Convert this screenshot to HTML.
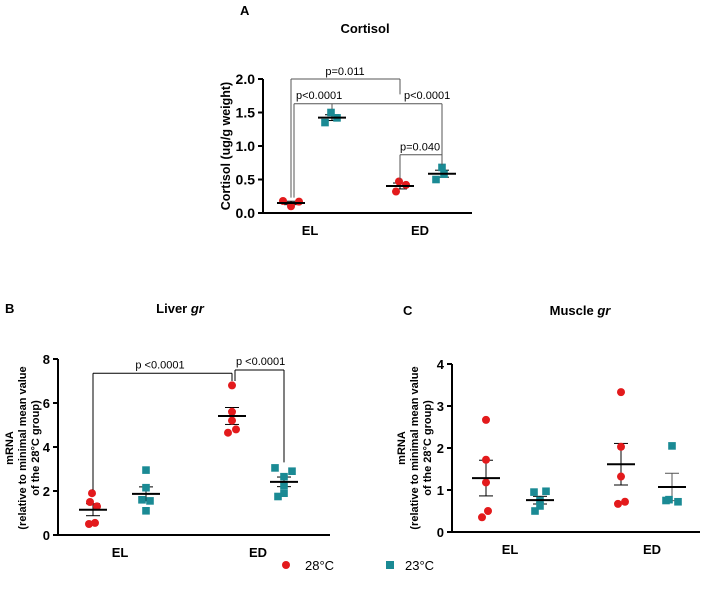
<!DOCTYPE html>
<html><head><meta charset="utf-8"><style>
body{margin:0;background:#fff;}
svg{font-family:"Liberation Sans",Arial,sans-serif;display:block}
</style></head><body>
<svg id="fig" width="708" height="598" viewBox="0 0 708 598">
<text x="240" y="15" font-size="13" font-weight="bold">A</text>
<text x="365" y="33" font-size="13" font-weight="bold" text-anchor="middle">Cortisol</text>
<text transform="translate(230,146) rotate(-90)" font-size="12.5" font-weight="bold" text-anchor="middle">Cortisol (ug/g weight)</text>
<text x="5" y="313" font-size="13" font-weight="bold">B</text>
<text x="180" y="313" font-size="13" font-weight="bold" text-anchor="middle">Liver <tspan font-style="italic">gr</tspan></text>
<text transform="translate(26,448) rotate(-90)" font-size="11" font-weight="bold" text-anchor="middle"><tspan x="0" dy="-13">mRNA</tspan><tspan x="0" dy="13">(relative to minimal mean value</tspan><tspan x="0" dy="13">of the 28°C group)</tspan></text>
<text x="403" y="315" font-size="13" font-weight="bold">C</text>
<text x="580" y="315" font-size="13" font-weight="bold" text-anchor="middle">Muscle <tspan font-style="italic">gr</tspan></text>
<text transform="translate(418,448) rotate(-90)" font-size="11" font-weight="bold" text-anchor="middle"><tspan x="0" dy="-13">mRNA</tspan><tspan x="0" dy="13">(relative to minimal mean value</tspan><tspan x="0" dy="13">of the 28°C group)</tspan></text>
<g>
<circle cx="286" cy="565" r="4" fill="#e31a1c"/>
<text x="305" y="570" font-size="13">28°C</text>
<rect x="386" y="561" width="8" height="8" fill="#1a8a94"/>
<text x="405" y="570" font-size="13">23°C</text>
</g>
</svg>
<script>
const RED="#e31a1c", TEAL="#1a8a94";
// Panel A data
const cortEL28=[0.18,0.10,0.17];
const cortEL23=[1.50,1.35,1.42];
const cortED28=[0.47,0.32,0.42];
const cortED23=[0.68,0.50,0.58];
const cortTicks=["0.0","0.5","1.0","1.5","2.0"];
// Panel B data
const livEL28=[1.9,1.5,1.3,0.5,0.55];
const livEL23=[2.95,2.15,1.6,1.55,1.1];
const livED28=[6.8,5.6,5.2,4.8,4.65];
const livED23=[3.05,2.9,2.65,2.25,1.9,1.75];
const livTicks=["0","2","4","6","8"];
// Panel C data
const musEL28=[2.67,1.72,1.18,0.5,0.35];
const musEL23=[0.97,0.95,0.75,0.62,0.5];
const musED28=[3.33,2.03,1.32,0.72,0.67];
const musED23=[2.05,0.77,0.72,0.75];
const musTicks=["0","1","2","3","4"];
const categories=["EL","ED"];

const svg=document.getElementById('fig');
const NS="http://www.w3.org/2000/svg";
function mk(tag,attrs,name,parent){const e=document.createElementNS(NS,tag);for(const k in attrs)e.setAttribute(k,attrs[k]);


(parent||svg).appendChild(e);return e;}
function line(x1,y1,x2,y2,name,g,col,w){return mk('line',{x1,y1,x2,y2,stroke:col||'#000','stroke-width':w||1},name,g);}
function txt(x,y,s,name,g,o){const t=mk('text',Object.assign({x,y,'font-size':11},o||{}),name,g);t.textContent=s;return t;}

function panel(cfg){
  const g=mk('g',{},cfg.name+'-plot');
  const Y=v=>cfg.y0-(v/cfg.ymax)*(cfg.y0-cfg.ytop);
  line(cfg.ax,cfg.ytop,cfg.ax,cfg.y0+1,cfg.name+'-y-axis',g,'#000',2);
  line(cfg.ax-1,cfg.y0,cfg.xend,cfg.y0,cfg.name+'-x-axis',g,'#000',2);
  cfg.ticks.forEach((t,i)=>{const v=cfg.ymax*i/(cfg.ticks.length-1);
    line(cfg.ax-5,Y(v),cfg.ax,Y(v),cfg.name+'-y-tick',g,'#000',2);
    txt(cfg.ax-8,Y(v)+5,t,cfg.name+'-y-tick-label',g,{'text-anchor':'end','font-size':cfg.tfs||13,'font-weight':'bold'});
  });
  categories.forEach((c,i)=>txt(cfg.catX[i],cfg.y0+22,c,cfg.name+'-x-label-'+c.toLowerCase(),g,{'text-anchor':'middle','font-size':13,'font-weight':'bold'}));
  cfg.series.forEach(s=>{
    const n=s.d.length,m=s.d.reduce((a,b)=>a+b,0)/n;
    const sd=Math.sqrt(s.d.reduce((a,b)=>a+(b-m)*(b-m),0)/(n-1)),se=sd/Math.sqrt(n);
    line(s.x,Y(m+se),s.x,Y(m-se),cfg.name+'-errorbar',g,s.ec||'#000',1);
    line(s.x-7,Y(m+se),s.x+7,Y(m+se),cfg.name+'-errorcap',g,s.ec||'#000',1);
    line(s.x-7,Y(m-se),s.x+7,Y(m-se),cfg.name+'-errorcap',g,s.ec||'#000',1);
    s.d.forEach((v,j)=>{const dx=s.jit[j]||0;
      if(s.red) mk('circle',{cx:s.x+dx,cy:Y(v),r:4,fill:RED},cfg.name+'-point-28c',g);
      else mk('rect',{x:s.x+dx-3.8,y:Y(v)-3.8,width:7.6,height:7.6,fill:TEAL},cfg.name+'-point-23c',g);
    });
    line(s.x-14,Y(m),s.x+14,Y(m),cfg.name+'-mean-line',g,'#000',2);
  });
  return {g,Y};
}
// Panel A
const A=panel({name:'cortisol',ax:263,y0:213,ytop:79,ymax:2,xend:472,ticks:cortTicks,catX:[310,420],tfs:14,
 series:[{x:291,d:cortEL28,red:1,jit:[-8,0,8]},{x:332,d:cortEL23,jit:[-1,-7,5]},{x:400,d:cortED28,red:1,jit:[-1,-4,6]},{x:442,d:cortED23,jit:[0,-6,2]}]});
{const g=A.g,Y=A.Y,c='#555';
 line(291,Y(0.23),291,Y(2.0),'bracket-p011',g,c);line(291,Y(2.0),400,Y(2.0),'bracket-p011',g,c);line(400,Y(2.0),400,Y(1.77),'bracket-p011',g,c);
 txt(345,Y(2.0)-4,'p=0.011','p-label-011',g,{'text-anchor':'middle'});
 line(294,Y(0.23),294,Y(1.63),'bracket-el',g,c);line(294,Y(1.63),442,Y(1.63),'bracket-el',g,c);line(332,Y(1.63),332,Y(1.55),'bracket-el',g,c);line(442,Y(1.63),442,Y(0.72),'bracket-el',g,c);
 txt(296,Y(1.63)-5,'p<0.0001','p-label-el',g,{});
 txt(404,Y(1.63)-5,'p<0.0001','p-label-ed',g,{});
 line(400,Y(0.5),400,Y(0.87),'bracket-p040',g,c);line(400,Y(0.87),442,Y(0.87),'bracket-p040',g,c);line(442,Y(0.87),442,Y(0.72),'bracket-p040',g,c);
 txt(400,Y(0.87)-4,'p=0.040','p-label-040',g,{});
}
// Panel B
const B=panel({name:'liver',ax:58,y0:535,ytop:359,ymax:8,xend:330,ticks:livTicks,catX:[120,258],
 series:[{x:93,d:livEL28,red:1,jit:[-1,-3,4,-4,2]},{x:146,d:livEL23,jit:[0,0,-4,4,0]},{x:232,d:livED28,red:1,jit:[0,0,0,4,-4]},{x:284,d:livED23,jit:[-9,8,0,0,0,-6]}]});
{const g=B.g,Y=B.Y;
 line(93,Y(2.05),93,Y(7.35),'bracket-liver-el-ed',g);line(93,Y(7.35),232,Y(7.35),'bracket-liver-el-ed',g);line(232,Y(7.35),232,Y(7.0),'bracket-liver-el-ed',g);
 txt(160,Y(7.35)-5,'p <0.0001','p-label-liver-1',g,{'text-anchor':'middle'});
 line(235,Y(7.0),235,Y(7.5),'bracket-liver-ed',g);line(235,Y(7.5),284,Y(7.5),'bracket-liver-ed',g);line(284,Y(7.5),284,Y(3.3),'bracket-liver-ed',g);
 txt(236,Y(7.5)-5,'p <0.0001','p-label-liver-2',g,{});
}
// Panel C
panel({name:'muscle',ax:452,y0:532,ytop:364,ymax:4,xend:700,ticks:musTicks,catX:[510,652],
 series:[{x:486,d:musEL28,red:1,jit:[0,0,0,2,-4]},{x:540,d:musEL23,jit:[6,-6,0,0,-5]},{x:621,d:musED28,red:1,jit:[0,0,0,4,-3]},{x:672,d:musED23,jit:[0,-3,6,-6],ec:'#555'}]});
</script>
</body></html>
